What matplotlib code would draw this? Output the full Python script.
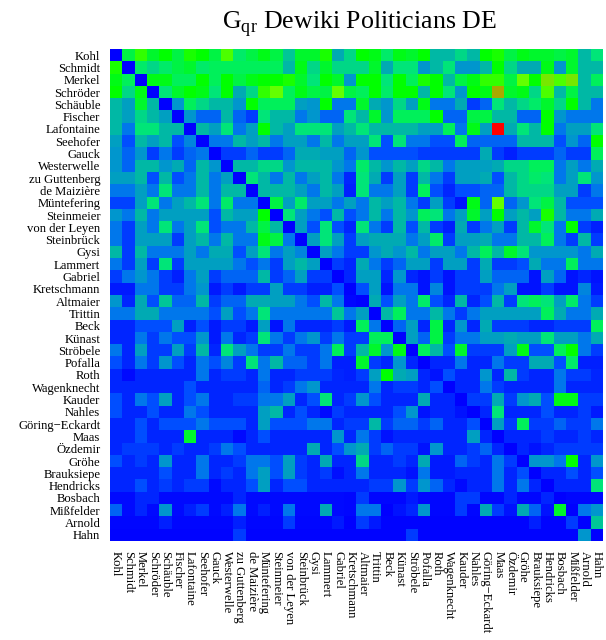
import numpy as np
import matplotlib
matplotlib.use('Agg')
import matplotlib.pyplot as plt
from matplotlib.colors import LinearSegmentedColormap

plt.rcParams['font.family'] = ['Liberation Serif', 'DejaVu Serif']
plt.rcParams['mathtext.fontset'] = 'custom'
plt.rcParams['mathtext.rm'] = 'Liberation Serif'

names = ['Kohl', 'Schmidt', 'Merkel', 'Schröder', 'Schäuble', 'Fischer', 'Lafontaine', 'Seehofer',
         'Gauck', 'Westerwelle', 'zu Guttenberg', 'de Maizière', 'Müntefering', 'Steinmeier',
         'von der Leyen', 'Steinbrück', 'Gysi', 'Lammert', 'Gabriel', 'Kretschmann', 'Altmaier',
         'Trittin', 'Beck', 'Künast', 'Ströbele', 'Pofalla', 'Roth', 'Wagenknecht', 'Kauder',
         'Nahles', 'Göring−Eckardt', 'Maas', 'Özdemir', 'Gröhe', 'Brauksiepe', 'Hendricks',
         'Bosbach', 'Mißfelder', 'Arnold', 'Hahn']

# colour levels: 0 blue, 10 green, 20 red
g = [
 [0,8.5,11,9,10,8.5,10.5,10,8.5,11.5,7.5,8.5,9.5,8.5,6,9,9,10.5,5,6.5,10,9.5,7.5,9.5,9,10,5.5,5.5,6.5,5.5,10,10.5,8.5,9.5,9,9,8.5,9,5.5,7],
 [10.5,0,7.5,6.5,7.5,8.5,9,7.5,8,8,8,8,8,8,5.5,9.5,6.5,9,6.5,6.5,6.5,9,5,7,7,4,5.5,7,4,4,5.5,10,6.5,5,5,9.5,4,9,5.5,5.5],
 [9.5,8,0,9.5,9.5,8,8,10,8,10,8.5,9.5,10,10,10.5,9,7,10,9,4,10,10,7,10,8,10.5,10,5.5,8.5,9.5,11,11,8.5,12,10,12.5,11.5,12.5,5.5,8],
 [10,6.5,9.5,0,7,9,10,9.5,7,10,5,6.5,11,12,8,9.5,8.5,8.5,12,8.5,8,10,7.5,10,10,5.5,10,7,4,10,9.5,14,9,9.5,6.5,11.5,5.5,8.5,5.5,5.5],
 [5.5,4.5,9,5.5,0,4,8,6.5,5.5,5.5,4,10,8,8,8,4.5,4,10,3,3,9,5,4,6.5,4.5,9.5,3,3,5,1.5,2.5,7,5.5,6.5,7.5,9,6.5,10,5.5,3],
 [5.5,4.5,6.5,5.5,4.5,0,4,2.5,2.5,5.5,2.5,1.5,7,5.5,5.5,3,4,2.5,2.5,7,5.5,9,4,8,8,8,10,2.5,2.5,8.5,8.5,5.5,5.5,2.5,2.5,10,4,3,3,3],
 [5.5,3,7,7,5.5,5.5,0,5.5,4.5,7,3,4.5,10,5.5,4.5,7,7,7,4.5,5.5,7,5.5,5.5,5.5,5.5,4.5,4.5,8,3,9.5,4.5,20,5,7,5.5,10,3,4.5,4.5,7],
 [4.5,2,5.5,4.5,5.5,2,3.5,0,3,3,5.5,4.5,5.5,3,4.5,4.5,3,5.5,3,4.5,4.5,7,2,7,3,3,2,2,8,2.5,2.5,2.5,2.5,5.5,5.5,5.5,2,4,2.5,10],
 [4,2.5,4,1.5,3,1.5,2.5,3,0,1.5,1.5,2.5,1.5,1.5,2.5,5,5,4.5,4.5,2.5,4,2,2,2,2,1.5,1.5,1.5,1.5,1.5,5,1.5,0.8,1.5,1.5,1.5,2.5,1.5,1.5,8],
 [4,2.5,5.5,5.5,4,5,2.5,5.5,4,0,5.5,5.5,6.5,6.5,4,5.5,5.5,5.5,4,3,7.5,5.5,4,5.5,4.5,6.5,5.5,3,4.5,4.5,4.5,5,6.5,6.5,8,8,3,4.5,3,5],
 [4.5,4.5,5.5,2,5.5,2,3,5.5,3,4.5,0,7,5.5,3,5.5,3,4.5,5.5,3,1,7,5,1.5,4.5,1.5,5.5,3,1.5,4.5,4.5,5,2,5.5,6.5,7.5,7,3,4.5,7,4],
 [3,3,4.5,3,7,3,3,5.5,3,5.5,5.5,0,5.5,5.5,5.5,4.5,3,5.5,4.5,0.8,7,3,3,4.5,1.5,8,2,1,2,2,2.5,2.5,5.5,6.5,6.5,6.5,4.5,4.5,1.5,3],
 [1.7,1.7,4.5,7,3,4.5,5.5,7,3,7.5,3,3,0,8.5,4.5,7.5,4.5,4.5,3,4.5,3,5.5,4.5,5.5,3,1.5,4.5,1.5,0.5,9.5,2.5,12,2.5,4,7,8.5,5.5,2,2,2],
 [4,3,5.5,3,4.5,4.5,4.5,4.5,2,5.5,4.5,4.5,10,0,7,4.5,3,2,5.5,2,3,5.5,3,5.5,4,8,7,3,4.5,9,4.5,10,4.5,5.5,4.5,10.5,5.5,3,3,5],
 [3,1.5,4.5,3,7,3,4.5,7,2,3,3,5.5,8.5,5.5,0,4.5,2,7,2,1,7,3,1.5,5.5,2,5.5,1.5,0.8,5,1.5,3,4.5,1.5,5.5,9,7,3,10,1.5,0.8],
 [3,1.5,4.5,4.5,4.5,1.5,4.5,5.5,3,5.5,3,3,9.5,8.5,3,0,4.5,7,4.5,1.5,4.5,5,5,5,3,4.5,7.5,1.5,4.5,4.5,5,3,3,5.5,5.5,8,3,1.5,5.5,1.5],
 [5.5,1.5,5.5,3,3,3,4.5,3,5,5,2,4.5,7,3,4.5,3.5,0,4.5,3,1.5,1.5,4,5,4,5.5,3,4.5,4.5,3,5.5,8,5.5,9,7,4,4,4,4,3,5],
 [3,1.5,4.5,1.5,7,1.5,4.5,4.5,4.5,4.5,3,2,3,1.5,4.5,5.5,4.5,0,1.5,1,5,3,1.5,2.5,4.5,4.5,1.5,4.5,4.5,1.5,5,1.5,1.5,2,5,3,3,8,3,3],
 [1.5,3,4,3,1.5,0.8,3,4.5,1.5,2.5,2.5,2.5,5.5,1.5,2.5,4.5,1.5,1.5,0,1,4.5,4.5,1,4,1,0.5,1.5,0.5,1.5,1.5,4.5,2.5,2.5,2.5,0.5,4.5,2.5,0.5,1,0.5],
 [0.7,0.7,3,3,1.5,1.5,3,4,0.7,1.5,0.7,1.5,1.5,4.5,1.5,1.5,0.8,0.8,2,0,2,4.5,0.5,3,3,0.5,3.5,0.5,1.5,1.5,1.5,3,4.5,0.5,0.5,1.5,0.5,0.5,3.5,0.7],
 [4,1,5,2,6,2.5,2.5,5.5,1.5,2.5,2.5,5,5,4.5,4.5,3,2,5.5,3,0.2,0,5,2,4.5,3,7.5,2,1,5.5,1,2,5.5,1.5,7,8,7,4.5,7.5,3,1.5],
 [3,3,5,5,3,3,3,3,2,4.5,2,3,7,3,3,3,3,3,6,3,4.5,0,5.5,8,3,3,5.5,3,1.5,3,4.5,4.5,4.5,4.5,4.5,8,5,3,3,5],
 [1,1,2,2,2,4.5,0.8,2,0.7,1.5,1.5,0.7,4.5,0.5,3,1,1,1,1.5,0.7,8,3,0,2.5,4.5,1,8.5,1,4,1,5,1.5,1.5,1.5,1,1,1.5,1.5,1.5,8],
 [1,1,3,1.5,3,2,2,4,0.7,3,1,1.5,7,3,1.5,3,4,1.5,3,1.5,1.5,8,8,0,4.5,2.5,8.5,1.5,3,3,4.5,4.5,5,4.5,4.5,7,4.5,4.5,3,5],
 [3,1,4.5,1.5,1.5,4.5,1.5,5.5,1,7,4.5,3,1.5,1.5,3,1.5,1.5,3,8,1.5,5.5,9,4,9.5,0,8,5.5,2,9,1.5,1.5,1.5,4.5,9.5,2,2,8,10,3,1.5],
 [2,1,3,1.5,4,2,1,3,2,3.5,1.5,7,3,5.5,2.5,2.5,1.5,3,0.8,0.8,9,1.5,1,4,1,0,1,1,3,1,1,3,1.5,1.5,5,5,2,7.5,0.8,0.8],
 [1,0.3,1,1,1,1,1,3,1,1.5,1.5,1,3,1,1,1.5,1.5,1.5,1,0.8,1.5,4.5,10,5,4.5,1,0.5,2,1,1,4,1,5.5,1.5,1,1,3,1.5,1.5,1],
 [1,1,1,1,1,1,2,1,1,1,1,1,2.5,1,1.5,3,4,1,1,1,1,3,1,1.5,1.5,1,2,0,1,1,3,1.5,1,1,1,1,3,1,1,1],
 [2,1,3,2,4.5,1,2,3,1,1,1.5,1.5,3,3,4.5,1,2,7,1,1.5,4,2,1,1,1,5,1,1,0,1.5,1.5,5,1.5,4,5,2,9.5,9.5,1.5,1.5],
 [2,1,1,2,1,1,3,2,1,1,1,1,4.5,5.5,1,2,1,0.3,1.5,1,1,1,1,2,4,0.5,1,1,0.5,0,1,7,1,1,1,2,1,1,1.5,0.7],
 [1,1,2,1,2,2,2,3,2,2,2,1,4.5,2,2,2,3,3,1,1.5,1.5,5.5,1.5,2.5,2.5,1.5,2.5,1,1,2,0,4.5,1.5,8,1.5,1.5,2.5,1.5,1.5,3],
 [1,1,2,1,1,1,9,1,1,1,0.3,1,2,1,1,1,1,1,4,1,3,1.5,0.5,1,1,1,1,1,1,4.5,1,0,1,1,1,1.5,1,1,1.5,1],
 [1,1.5,1.5,1.5,1,1.5,1,1,1.5,3,2,1,1,1,1,1,5,1,2,4,5,1.5,2.5,1.5,1.5,0.5,4,1,1,1.5,2.5,1,0,1,0.5,1,1.5,1.5,1.5,1.5],
 [2,1,1.5,1,4,1,1,3,1,1,1.5,3,3,2,4.5,1.5,1,5,1,1,6.5,1,1,1.5,1,5,0.7,0.7,2.5,1.5,1,3,1.5,0,4,4,3,10,1,4],
 [1,1,1,1,2,1,1,3,1,1.5,1,3,4.5,2,4.5,1.5,1,1.5,0.4,1,3,1,1,1,0.5,3,0.7,0.7,1,1,1,3,1,2,0,1,1,2,1,2],
 [1,1,2,1,1.5,1,1.5,1.5,0.3,1,1,2,4.5,1,2,2,1,1,1,1,1,1.5,1.5,4,1.5,4,2.5,1,0.3,1,1,3,1,3,1,0,1,1,1,7],
 [0.3,0.3,1,1,0.3,0.3,0.3,0.3,0.3,0.3,1,0.3,0.3,0.3,0.3,0.3,0.3,0.3,0.3,0.2,1.5,0.2,0.2,0.2,0.7,0.2,0.2,0.2,1.5,1.5,0.2,0.2,1,0.2,0.2,1,0,0.2,0.2,0.2],
 [2.5,0.3,1,0.3,4,0.3,0.8,1.5,0.3,0.8,3,0.3,0.8,0.3,3,0.3,0.3,5,0.3,0.2,3,3,0,0.5,1,4,0.2,0.2,1.5,0.2,5,1.5,0.5,5,2.5,0.5,9,0,3,4],
 [0.2,0.2,0.2,0.2,0.8,0.2,0.2,0.2,0.2,0.2,0.8,0.2,0.2,0.2,1.5,0.2,0.2,0.2,0.7,0,1.5,0.7,0.1,0.1,0.1,0.1,0.1,0.1,0.1,0.1,0.1,0.1,0.1,0.1,0.8,0.1,0.1,1.5,0,6],
 [0.1,0.1,0.1,0.1,0.1,0.1,0.1,0.1,0.1,0.1,1.5,0.1,0.1,0.1,0.1,0.1,0.1,0.1,0.1,0.1,0.1,0.1,0.1,0.1,1.5,0.1,0.1,0.1,0.1,0.1,0.1,0.1,0.1,0.1,0.1,0.1,0.1,0.1,4,0],
]

stops = [(0, '#0000ff'), (0.1, '#0050ff'), (0.15, '#0078eb'), (0.2, '#0096cd'), (0.25, '#00aab4'),
         (0.3, '#00c896'), (0.35, '#00e678'), (0.4, '#00f05a'), (0.5, '#00ff00'), (0.6, '#64ff00'),
         (0.7, '#aaaa00'), (1, '#ff0000')]
cmap = LinearSegmentedColormap.from_list('gqr', stops)

fig = plt.figure(figsize=(6.06, 6.40), dpi=100)
ax = fig.add_axes([110/606, 1-541/640, 493/606, 492/640])
ax.imshow(np.array(g), cmap=cmap, vmin=0, vmax=20, aspect='auto', interpolation='nearest')

ax.set_xticks(range(len(names)))
ax.set_yticks(range(len(names)))
ax.set_xticklabels(names, rotation=270, fontsize=9.1, ha='center', va='top')
ax.set_yticklabels(names, fontsize=9.1)
ax.tick_params(length=0, pad=7, axis='x')
ax.tick_params(length=0, pad=7, axis='y')
for s in ax.spines.values():
    s.set_visible(False)

fig.text(359/606, 1-24/640, r'G$_{\mathrm{qr}}$ Dewiki Politicians DE', fontsize=18.6, ha='center', va='center')

fig.savefig('out.png', dpi=100)
